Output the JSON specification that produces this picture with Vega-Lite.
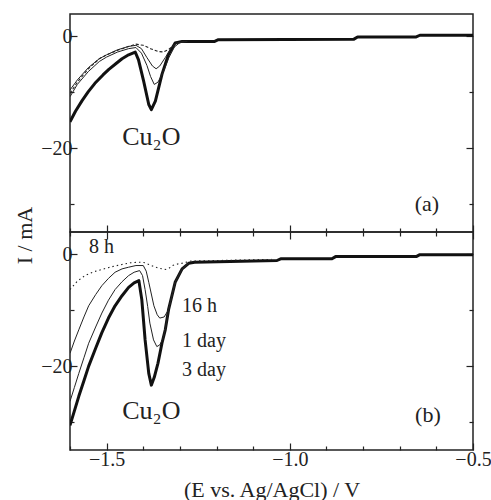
{
  "$schema": "https://vega.github.io/schema/vega-lite/v6.json",
  "padding": {"left": 12, "top": 13, "right": 5, "bottom": 5},
  "bounds": "flush",
  "spacing": 0,
  "datasets": {
    "curves": [
      {"panel": "a", "series": "8 h", "E": -1.6, "I": -10.2},
      {"panel": "a", "series": "8 h", "E": -1.58, "I": -8.2},
      {"panel": "a", "series": "8 h", "E": -1.55, "I": -5.8},
      {"panel": "a", "series": "8 h", "E": -1.52, "I": -4.0},
      {"panel": "a", "series": "8 h", "E": -1.5, "I": -3.3},
      {"panel": "a", "series": "8 h", "E": -1.47, "I": -2.5},
      {"panel": "a", "series": "8 h", "E": -1.44, "I": -1.8},
      {"panel": "a", "series": "8 h", "E": -1.42, "I": -1.4},
      {"panel": "a", "series": "8 h", "E": -1.40, "I": -1.6},
      {"panel": "a", "series": "8 h", "E": -1.38, "I": -2.2},
      {"panel": "a", "series": "8 h", "E": -1.36, "I": -2.7},
      {"panel": "a", "series": "8 h", "E": -1.345, "I": -2.8},
      {"panel": "a", "series": "8 h", "E": -1.33, "I": -2.3},
      {"panel": "a", "series": "8 h", "E": -1.315, "I": -1.5},
      {"panel": "a", "series": "8 h", "E": -1.30, "I": -1.0},
      {"panel": "a", "series": "8 h", "E": -1.28, "I": -0.9},

      {"panel": "a", "series": "16 h", "E": -1.6, "I": -9.6},
      {"panel": "a", "series": "16 h", "E": -1.58, "I": -7.8},
      {"panel": "a", "series": "16 h", "E": -1.55, "I": -5.6},
      {"panel": "a", "series": "16 h", "E": -1.52, "I": -4.0},
      {"panel": "a", "series": "16 h", "E": -1.5, "I": -3.3},
      {"panel": "a", "series": "16 h", "E": -1.47, "I": -2.4},
      {"panel": "a", "series": "16 h", "E": -1.44, "I": -1.8},
      {"panel": "a", "series": "16 h", "E": -1.42, "I": -1.6},
      {"panel": "a", "series": "16 h", "E": -1.405, "I": -2.2},
      {"panel": "a", "series": "16 h", "E": -1.39, "I": -3.8},
      {"panel": "a", "series": "16 h", "E": -1.375, "I": -5.3},
      {"panel": "a", "series": "16 h", "E": -1.365, "I": -5.8},
      {"panel": "a", "series": "16 h", "E": -1.355, "I": -5.3},
      {"panel": "a", "series": "16 h", "E": -1.34, "I": -3.8},
      {"panel": "a", "series": "16 h", "E": -1.325, "I": -2.2},
      {"panel": "a", "series": "16 h", "E": -1.31, "I": -1.2},
      {"panel": "a", "series": "16 h", "E": -1.28, "I": -0.9},

      {"panel": "a", "series": "1 day", "E": -1.6, "I": -10.8},
      {"panel": "a", "series": "1 day", "E": -1.58, "I": -8.6},
      {"panel": "a", "series": "1 day", "E": -1.55, "I": -6.3},
      {"panel": "a", "series": "1 day", "E": -1.52, "I": -4.5},
      {"panel": "a", "series": "1 day", "E": -1.5, "I": -3.7},
      {"panel": "a", "series": "1 day", "E": -1.47, "I": -2.8},
      {"panel": "a", "series": "1 day", "E": -1.44, "I": -2.2},
      {"panel": "a", "series": "1 day", "E": -1.42, "I": -2.0},
      {"panel": "a", "series": "1 day", "E": -1.405, "I": -3.0},
      {"panel": "a", "series": "1 day", "E": -1.39, "I": -5.2},
      {"panel": "a", "series": "1 day", "E": -1.38, "I": -7.2},
      {"panel": "a", "series": "1 day", "E": -1.37, "I": -8.6},
      {"panel": "a", "series": "1 day", "E": -1.36, "I": -8.2},
      {"panel": "a", "series": "1 day", "E": -1.345, "I": -6.3},
      {"panel": "a", "series": "1 day", "E": -1.33, "I": -3.8},
      {"panel": "a", "series": "1 day", "E": -1.315, "I": -1.9},
      {"panel": "a", "series": "1 day", "E": -1.30, "I": -1.1},
      {"panel": "a", "series": "1 day", "E": -1.28, "I": -0.9},

      {"panel": "a", "series": "3 day", "E": -1.6, "I": -15.3},
      {"panel": "a", "series": "3 day", "E": -1.585, "I": -13.4},
      {"panel": "a", "series": "3 day", "E": -1.567, "I": -11.5},
      {"panel": "a", "series": "3 day", "E": -1.55, "I": -9.9},
      {"panel": "a", "series": "3 day", "E": -1.532, "I": -8.4},
      {"panel": "a", "series": "3 day", "E": -1.51, "I": -6.9},
      {"panel": "a", "series": "3 day", "E": -1.494, "I": -5.9},
      {"panel": "a", "series": "3 day", "E": -1.475, "I": -4.9},
      {"panel": "a", "series": "3 day", "E": -1.458, "I": -4.0},
      {"panel": "a", "series": "3 day", "E": -1.44, "I": -3.3},
      {"panel": "a", "series": "3 day", "E": -1.422, "I": -2.8},
      {"panel": "a", "series": "3 day", "E": -1.413, "I": -4.2},
      {"panel": "a", "series": "3 day", "E": -1.399, "I": -8.0},
      {"panel": "a", "series": "3 day", "E": -1.385, "I": -12.2},
      {"panel": "a", "series": "3 day", "E": -1.378, "I": -13.1},
      {"panel": "a", "series": "3 day", "E": -1.367, "I": -11.6},
      {"panel": "a", "series": "3 day", "E": -1.349, "I": -6.8},
      {"panel": "a", "series": "3 day", "E": -1.331, "I": -3.2},
      {"panel": "a", "series": "3 day", "E": -1.313, "I": -1.2},
      {"panel": "a", "series": "3 day", "E": -1.294, "I": -0.9},
      {"panel": "a", "series": "3 day", "E": -1.205, "I": -0.9},
      {"panel": "a", "series": "3 day", "E": -1.195, "I": -0.6},
      {"panel": "a", "series": "3 day", "E": -0.825, "I": -0.5},
      {"panel": "a", "series": "3 day", "E": -0.815, "I": -0.1},
      {"panel": "a", "series": "3 day", "E": -0.655, "I": -0.1},
      {"panel": "a", "series": "3 day", "E": -0.645, "I": 0.2},
      {"panel": "a", "series": "3 day", "E": -0.5, "I": 0.2},

      {"panel": "b", "series": "8 h", "E": -1.6, "I": -6.3},
      {"panel": "b", "series": "8 h", "E": -1.58, "I": -4.8},
      {"panel": "b", "series": "8 h", "E": -1.559, "I": -3.8},
      {"panel": "b", "series": "8 h", "E": -1.535, "I": -3.1},
      {"panel": "b", "series": "8 h", "E": -1.513, "I": -2.7},
      {"panel": "b", "series": "8 h", "E": -1.485, "I": -2.2},
      {"panel": "b", "series": "8 h", "E": -1.458, "I": -1.8},
      {"panel": "b", "series": "8 h", "E": -1.435, "I": -1.5},
      {"panel": "b", "series": "8 h", "E": -1.41, "I": -1.4},
      {"panel": "b", "series": "8 h", "E": -1.395, "I": -1.5},
      {"panel": "b", "series": "8 h", "E": -1.385, "I": -1.8},
      {"panel": "b", "series": "8 h", "E": -1.37, "I": -2.2},
      {"panel": "b", "series": "8 h", "E": -1.357, "I": -2.5},
      {"panel": "b", "series": "8 h", "E": -1.34, "I": -2.7},
      {"panel": "b", "series": "8 h", "E": -1.33, "I": -2.5},
      {"panel": "b", "series": "8 h", "E": -1.32, "I": -2.0},
      {"panel": "b", "series": "8 h", "E": -1.305, "I": -1.7},
      {"panel": "b", "series": "8 h", "E": -1.294, "I": -1.6},
      {"panel": "b", "series": "8 h", "E": -1.27, "I": -1.2},
      {"panel": "b", "series": "8 h", "E": -1.05, "I": -0.9},

      {"panel": "b", "series": "16 h", "E": -1.6, "I": -17.7},
      {"panel": "b", "series": "16 h", "E": -1.588, "I": -15.5},
      {"panel": "b", "series": "16 h", "E": -1.576, "I": -13.5},
      {"panel": "b", "series": "16 h", "E": -1.562, "I": -11.2},
      {"panel": "b", "series": "16 h", "E": -1.549, "I": -9.2},
      {"panel": "b", "series": "16 h", "E": -1.53, "I": -7.2},
      {"panel": "b", "series": "16 h", "E": -1.513, "I": -5.6},
      {"panel": "b", "series": "16 h", "E": -1.495, "I": -4.3},
      {"panel": "b", "series": "16 h", "E": -1.477, "I": -3.2},
      {"panel": "b", "series": "16 h", "E": -1.458, "I": -2.6},
      {"panel": "b", "series": "16 h", "E": -1.44, "I": -2.3},
      {"panel": "b", "series": "16 h", "E": -1.42, "I": -2.0},
      {"panel": "b", "series": "16 h", "E": -1.40, "I": -2.0},
      {"panel": "b", "series": "16 h", "E": -1.392, "I": -3.0},
      {"panel": "b", "series": "16 h", "E": -1.385, "I": -5.0},
      {"panel": "b", "series": "16 h", "E": -1.371, "I": -9.2},
      {"panel": "b", "series": "16 h", "E": -1.362, "I": -10.8},
      {"panel": "b", "series": "16 h", "E": -1.355, "I": -11.4},
      {"panel": "b", "series": "16 h", "E": -1.343, "I": -11.2},
      {"panel": "b", "series": "16 h", "E": -1.331, "I": -9.9},
      {"panel": "b", "series": "16 h", "E": -1.313, "I": -5.0},
      {"panel": "b", "series": "16 h", "E": -1.294, "I": -2.6},
      {"panel": "b", "series": "16 h", "E": -1.276, "I": -1.6},

      {"panel": "b", "series": "1 day", "E": -1.6, "I": -26.3},
      {"panel": "b", "series": "1 day", "E": -1.588, "I": -23.8},
      {"panel": "b", "series": "1 day", "E": -1.576, "I": -21.3},
      {"panel": "b", "series": "1 day", "E": -1.562, "I": -18.5},
      {"panel": "b", "series": "1 day", "E": -1.549, "I": -15.9},
      {"panel": "b", "series": "1 day", "E": -1.53, "I": -13.0},
      {"panel": "b", "series": "1 day", "E": -1.513, "I": -10.5},
      {"panel": "b", "series": "1 day", "E": -1.495, "I": -8.2},
      {"panel": "b", "series": "1 day", "E": -1.477, "I": -6.3},
      {"panel": "b", "series": "1 day", "E": -1.458, "I": -4.9},
      {"panel": "b", "series": "1 day", "E": -1.44, "I": -3.8},
      {"panel": "b", "series": "1 day", "E": -1.425, "I": -3.2},
      {"panel": "b", "series": "1 day", "E": -1.41, "I": -2.9},
      {"panel": "b", "series": "1 day", "E": -1.402, "I": -3.8},
      {"panel": "b", "series": "1 day", "E": -1.395, "I": -6.3},
      {"panel": "b", "series": "1 day", "E": -1.388, "I": -9.3},
      {"panel": "b", "series": "1 day", "E": -1.382, "I": -12.3},
      {"panel": "b", "series": "1 day", "E": -1.372, "I": -15.3},
      {"panel": "b", "series": "1 day", "E": -1.363, "I": -16.5},
      {"panel": "b", "series": "1 day", "E": -1.355, "I": -16.2},
      {"panel": "b", "series": "1 day", "E": -1.347, "I": -15.2},
      {"panel": "b", "series": "1 day", "E": -1.34, "I": -13.5},
      {"panel": "b", "series": "1 day", "E": -1.331, "I": -9.9},
      {"panel": "b", "series": "1 day", "E": -1.313, "I": -5.0},
      {"panel": "b", "series": "1 day", "E": -1.294, "I": -2.6},
      {"panel": "b", "series": "1 day", "E": -1.276, "I": -1.6},

      {"panel": "b", "series": "3 day", "E": -1.6, "I": -30.6},
      {"panel": "b", "series": "3 day", "E": -1.588, "I": -28.0},
      {"panel": "b", "series": "3 day", "E": -1.576, "I": -25.4},
      {"panel": "b", "series": "3 day", "E": -1.562, "I": -22.6},
      {"panel": "b", "series": "3 day", "E": -1.549, "I": -20.0},
      {"panel": "b", "series": "3 day", "E": -1.53, "I": -16.8},
      {"panel": "b", "series": "3 day", "E": -1.513, "I": -14.0},
      {"panel": "b", "series": "3 day", "E": -1.495, "I": -11.4},
      {"panel": "b", "series": "3 day", "E": -1.477, "I": -9.2},
      {"panel": "b", "series": "3 day", "E": -1.458, "I": -7.4},
      {"panel": "b", "series": "3 day", "E": -1.44, "I": -5.9},
      {"panel": "b", "series": "3 day", "E": -1.425, "I": -5.1},
      {"panel": "b", "series": "3 day", "E": -1.412, "I": -4.7},
      {"panel": "b", "series": "3 day", "E": -1.404, "I": -8.1},
      {"panel": "b", "series": "3 day", "E": -1.395, "I": -15.3},
      {"panel": "b", "series": "3 day", "E": -1.385, "I": -21.3},
      {"panel": "b", "series": "3 day", "E": -1.378, "I": -23.4},
      {"panel": "b", "series": "3 day", "E": -1.37, "I": -22.0},
      {"panel": "b", "series": "3 day", "E": -1.36, "I": -19.5},
      {"panel": "b", "series": "3 day", "E": -1.349, "I": -15.9},
      {"panel": "b", "series": "3 day", "E": -1.34, "I": -13.5},
      {"panel": "b", "series": "3 day", "E": -1.331, "I": -9.9},
      {"panel": "b", "series": "3 day", "E": -1.313, "I": -5.0},
      {"panel": "b", "series": "3 day", "E": -1.294, "I": -2.6},
      {"panel": "b", "series": "3 day", "E": -1.276, "I": -1.6},
      {"panel": "b", "series": "3 day", "E": -1.26, "I": -1.4},
      {"panel": "b", "series": "3 day", "E": -1.035, "I": -1.1},
      {"panel": "b", "series": "3 day", "E": -1.025, "I": -0.8},
      {"panel": "b", "series": "3 day", "E": -0.885, "I": -0.8},
      {"panel": "b", "series": "3 day", "E": -0.875, "I": -0.4},
      {"panel": "b", "series": "3 day", "E": -0.655, "I": -0.4},
      {"panel": "b", "series": "3 day", "E": -0.645, "I": -0.05},
      {"panel": "b", "series": "3 day", "E": -0.5, "I": -0.05}
    ],
    "labels": [
      {"panel": "a", "kind": "species", "E": -1.378, "I": -18.0, "text": "Cu₂O"},
      {"panel": "a", "kind": "tag", "E": -0.626, "I": -30.0, "text": "(a)"},
      {"panel": "b", "kind": "species", "E": -1.378, "I": -28.1, "text": "Cu₂O"},
      {"panel": "b", "kind": "tag", "E": -0.623, "I": -28.8, "text": "(b)"},
      {"panel": "b", "kind": "time", "E": -1.548, "I": 1.3, "text": "8 h"},
      {"panel": "b", "kind": "time", "E": -1.294, "I": -9.2, "text": "16 h"},
      {"panel": "b", "kind": "time", "E": -1.294, "I": -15.5, "text": "1 day"},
      {"panel": "b", "kind": "time", "E": -1.294, "I": -20.7, "text": "3 day"}
    ]
  },
  "vconcat": [
    {
      "width": 403,
      "height": 218,
      "layer": [
        {
          "data": {"name": "curves"},
          "transform": [{"filter": "datum.panel === 'a' && datum.series === '3 day'"}],
          "mark": {"type": "line", "color": "#111", "strokeWidth": 3, "strokeJoin": "round", "clip": true},
          "encoding": {
            "x": {
              "field": "E", "type": "quantitative",
              "scale": {"domain": [-1.6, -0.5], "nice": false, "zero": false},
              "axis": {
                "orient": "bottom", "title": null, "labels": false,
                "values": [-1.6, -1.5, -1.4, -1.3, -1.2, -1.1, -1.0, -0.9, -0.8, -0.7, -0.6, -0.5],
                "tickSize": {"condition": {"test": "abs(round(datum.value * 10)) % 5 === 0", "value": -7}, "value": -4}
              }
            },
            "y": {
              "field": "I", "type": "quantitative",
              "scale": {"domain": [-35, 4], "nice": false, "zero": false},
              "axis": {
                "orient": "left",
                "values": [-30, -20, -10, 0],
                "labelExpr": "datum.value % 20 === 0 ? datum.label : ''",
                "tickSize": {"condition": {"test": "datum.value % 20 === 0", "value": -7}, "value": -4},
                "title": "I / mA",
                "titleX": -46,
                "titleY": 221,
                "titleAngle": -90,
                "titleAlign": "center",
                "titleBaseline": "middle"
              }
            }
          }
        },
        {
          "data": {"name": "curves"},
          "transform": [{"filter": "datum.panel === 'a' && (datum.series === '16 h' || datum.series === '1 day')"}],
          "mark": {"type": "line", "color": "#222", "strokeWidth": 1, "strokeJoin": "round", "clip": true},
          "encoding": {
            "x": {"field": "E", "type": "quantitative", "axis": null},
            "y": {"field": "I", "type": "quantitative", "axis": null},
            "detail": {"field": "series"}
          }
        },
        {
          "data": {"name": "curves"},
          "transform": [{"filter": "datum.panel === 'a' && datum.series === '8 h'"}],
          "mark": {"type": "line", "color": "#222", "strokeWidth": 1.1, "strokeDash": [3, 2], "clip": true},
          "encoding": {
            "x": {"field": "E", "type": "quantitative", "axis": null},
            "y": {"field": "I", "type": "quantitative", "axis": null}
          }
        },
        {
          "data": {"name": "labels"},
          "transform": [{"filter": "datum.panel === 'a' && datum.kind === 'species'"}],
          "mark": {"type": "text", "font": "Liberation Serif", "fontSize": 26, "color": "#222", "align": "center", "baseline": "middle"},
          "encoding": {
            "x": {"field": "E", "type": "quantitative", "axis": null},
            "y": {"field": "I", "type": "quantitative", "axis": null},
            "text": {"field": "text"}
          }
        },
        {
          "data": {"name": "labels"},
          "transform": [{"filter": "datum.panel === 'a' && datum.kind === 'tag'"}],
          "mark": {"type": "text", "font": "Liberation Serif", "fontSize": 22, "color": "#222", "align": "center", "baseline": "middle"},
          "encoding": {
            "x": {"field": "E", "type": "quantitative", "axis": null},
            "y": {
              "field": "I", "type": "quantitative",
              "axis": {
                "orient": "right", "title": null, "labels": false,
                "values": [-30, -20, -10, 0],
                "tickSize": {"condition": {"test": "datum.value % 20 === 0", "value": -7}, "value": -4}
              }
            },
            "text": {"field": "text"}
          }
        }
      ],
      "resolve": {"axis": {"x": "independent", "y": "independent"}}
    },
    {
      "width": 403,
      "height": 218,
      "layer": [
        {
          "data": {"name": "curves"},
          "transform": [{"filter": "datum.panel === 'b' && datum.series === '3 day'"}],
          "mark": {"type": "line", "color": "#111", "strokeWidth": 3, "strokeJoin": "round", "clip": true},
          "encoding": {
            "x": {
              "field": "E", "type": "quantitative",
              "scale": {"domain": [-1.6, -0.5], "nice": false, "zero": false},
              "axis": {
                "orient": "bottom",
                "title": "(E vs. Ag/AgCl) / V",
                "titlePadding": 10,
                "format": ".1f",
                "labelFlush": false,
                "labelPadding": 6,
                "values": [-1.6, -1.5, -1.4, -1.3, -1.2, -1.1, -1.0, -0.9, -0.8, -0.7, -0.6, -0.5],
                "labelExpr": "abs(round(datum.value * 10)) % 5 === 0 ? datum.label : ''",
                "tickSize": {"condition": {"test": "abs(round(datum.value * 10)) % 5 === 0", "value": -7}, "value": -4}
              }
            },
            "y": {
              "field": "I", "type": "quantitative",
              "scale": {"domain": [-35, 4], "nice": false, "zero": false},
              "axis": {
                "orient": "left", "title": null,
                "values": [-30, -20, -10, 0],
                "labelExpr": "datum.value % 20 === 0 ? datum.label : ''",
                "tickSize": {"condition": {"test": "datum.value % 20 === 0", "value": -7}, "value": -4}
              }
            }
          }
        },
        {
          "data": {"name": "curves"},
          "transform": [{"filter": "datum.panel === 'b' && (datum.series === '16 h' || datum.series === '1 day')"}],
          "mark": {"type": "line", "color": "#222", "strokeWidth": 1, "strokeJoin": "round", "clip": true},
          "encoding": {
            "x": {"field": "E", "type": "quantitative", "axis": null},
            "y": {"field": "I", "type": "quantitative", "axis": null},
            "detail": {"field": "series"}
          }
        },
        {
          "data": {"name": "curves"},
          "transform": [{"filter": "datum.panel === 'b' && datum.series === '8 h'"}],
          "mark": {"type": "line", "color": "#222", "strokeWidth": 1.1, "strokeDash": [1.5, 3], "clip": true},
          "encoding": {
            "x": {"field": "E", "type": "quantitative", "axis": null},
            "y": {"field": "I", "type": "quantitative", "axis": null}
          }
        },
        {
          "data": {"name": "labels"},
          "transform": [{"filter": "datum.panel === 'b' && datum.kind === 'species'"}],
          "mark": {"type": "text", "font": "Liberation Serif", "fontSize": 26, "color": "#222", "align": "center", "baseline": "middle"},
          "encoding": {
            "x": {"field": "E", "type": "quantitative", "axis": null},
            "y": {"field": "I", "type": "quantitative", "axis": null},
            "text": {"field": "text"}
          }
        },
        {
          "data": {"name": "labels"},
          "transform": [{"filter": "datum.panel === 'b' && datum.kind === 'time'"}],
          "mark": {"type": "text", "font": "Liberation Serif", "fontSize": 20, "color": "#222", "align": "left", "baseline": "middle"},
          "encoding": {
            "x": {"field": "E", "type": "quantitative", "axis": null},
            "y": {"field": "I", "type": "quantitative", "axis": null},
            "text": {"field": "text"}
          }
        },
        {
          "data": {"name": "labels"},
          "transform": [{"filter": "datum.panel === 'b' && datum.kind === 'tag'"}],
          "mark": {"type": "text", "font": "Liberation Serif", "fontSize": 22, "color": "#222", "align": "center", "baseline": "middle"},
          "encoding": {
            "x": {
              "field": "E", "type": "quantitative",
              "axis": {
                "orient": "top", "title": null, "labels": false,
                "values": [-1.6, -1.5, -1.4, -1.3, -1.2, -1.1, -1.0, -0.9, -0.8, -0.7, -0.6, -0.5],
                "tickSize": {"condition": {"test": "abs(round(datum.value * 10)) % 5 === 0", "value": -7}, "value": -4}
              }
            },
            "y": {
              "field": "I", "type": "quantitative",
              "axis": {
                "orient": "right", "title": null, "labels": false,
                "values": [-30, -20, -10, 0],
                "tickSize": {"condition": {"test": "datum.value % 20 === 0", "value": -7}, "value": -4}
              }
            },
            "text": {"field": "text"}
          }
        }
      ],
      "resolve": {"axis": {"x": "independent", "y": "independent"}}
    }
  ],
  "config": {
    "font": "Liberation Serif",
    "view": {"stroke": "#222", "strokeWidth": 1.5},
    "axis": {
      "domain": false,
      "grid": false,
      "labelFont": "Liberation Serif",
      "labelFontSize": 20,
      "labelColor": "#222",
      "labelPadding": 5,
      "tickColor": "#222",
      "tickWidth": 1.2,
      "titleFont": "Liberation Serif",
      "titleFontSize": 22,
      "titleFontWeight": "normal",
      "titleColor": "#222"
    }
  }
}
